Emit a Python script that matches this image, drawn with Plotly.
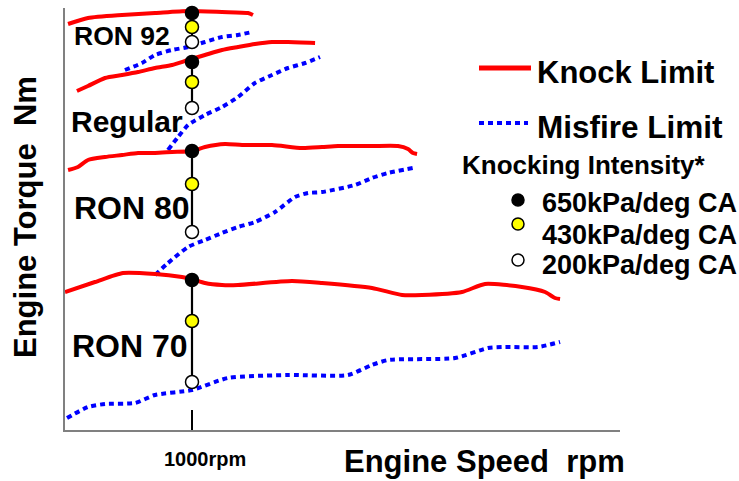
import plotly.graph_objects as go

# ---------------- data (engine speed in rpm, torque in arbitrary Nm units) ----------------
ron92_knock_rpm = [24, 181, 449, 709, 969, 1236, 1441, 1480]
ron92_knock_tq = [406, 412, 415, 417, 419, 418, 417, 415]
ron92_misfire_rpm = [472, 606, 709, 843, 969, 1102, 1236, 1362, 1472]
ron92_misfire_tq = [360, 367, 375, 380, 383, 388, 393, 395, 398]

regular_knock_rpm = [94, 181, 315, 449, 575, 709, 843, 969, 1102, 1236, 1362, 1496, 1630, 1756, 1969]
regular_knock_tq = [339, 344, 352, 355, 358, 362, 365, 370, 375, 380, 383, 386, 388, 388, 387]
regular_misfire_rpm = [811, 890, 969, 1102, 1236, 1362, 1496, 1630, 1756, 1890, 2008]
regular_misfire_tq = [280, 293, 305, 315, 323, 333, 347, 355, 362, 367, 373]

ron80_knock_rpm = [24, 102, 181, 315, 449, 575, 709, 843, 1000, 1102, 1260, 1394, 1630, 1866, 2024,
                   2150, 2417, 2622, 2701, 2740, 2772]
ron80_knock_tq = [260, 263, 270, 273, 275, 277, 277, 278, 279, 283, 286, 285, 285, 282, 283,
                  284, 284, 284, 281, 277, 276]
ron80_misfire_rpm = [709, 811, 969, 1102, 1236, 1362, 1496, 1654, 1811, 1913, 2024, 2283, 2417, 2543, 2740]
ron80_misfire_tq = [155, 167, 183, 190, 197, 203, 208, 218, 233, 237, 238, 245, 252, 257, 262]

ron70_knock_rpm = [0, 236, 457, 709, 921, 1000, 1102, 1236, 1362, 1787, 2024, 2417, 2654, 2811,
                   3126, 3307, 3598, 3780, 3858, 3898]
ron70_knock_tq = [138, 148, 157, 156, 153, 151, 147, 145, 145, 149, 147, 142, 135, 135,
                  138, 146, 143, 138, 132, 131]
ron70_misfire_rpm = [16, 181, 315, 551, 709, 1000, 1283, 1756, 2228, 2417, 2543, 3071, 3331, 3465, 3724, 3898]
ron70_misfire_tq = [12, 23, 26, 27, 35, 40, 52, 55, 55, 65, 70, 72, 82, 83, 83, 88]

fuel_labels = ["RON 92", "Regular", "RON 80", "RON 70"]
point_rpm = 1000
# knocking-intensity points at 1000 rpm: [650, 430, 200 kPa/deg CA]
intensity_tq = {
    "RON 92": [417, 403, 388],
    "Regular": [368, 348, 322],
    "RON 80": [279, 246, 198],
    "RON 70": [150, 109, 48],
}
intensity_labels = ["650kPa/deg CA", "430kPa/deg CA", "200kPa/deg CA"]
intensity_colors = ["#000000", "#FFFF00", "#FFFFFF"]

x_range = [0, 4370]
y_range = [0, 422]

# ---------------- layout helpers (pixel -> paper) ----------------
W, H = 739, 481
L, R, T, B = 65, 620, 8, 430


def pxx(x):
    return (x - L) / (R - L)


def pxy(y):
    return (B - y) / (B - T)


FONT = "Liberation Sans, Arial, sans-serif"
RED = "#FF0000"
BLUE = "#0000FF"
DOT = "5px,4px"

fig = go.Figure()

curves = [
    (ron92_knock_rpm, ron92_knock_tq, RED, "solid"),
    (ron92_misfire_rpm, ron92_misfire_tq, BLUE, DOT),
    (regular_knock_rpm, regular_knock_tq, RED, "solid"),
    (regular_misfire_rpm, regular_misfire_tq, BLUE, DOT),
    (ron80_knock_rpm, ron80_knock_tq, RED, "solid"),
    (ron80_misfire_rpm, ron80_misfire_tq, BLUE, DOT),
    (ron70_knock_rpm, ron70_knock_tq, RED, "solid"),
    (ron70_misfire_rpm, ron70_misfire_tq, BLUE, DOT),
]
for xs, ys, col, dash in curves:
    fig.add_trace(go.Scatter(
        x=xs, y=ys, mode="lines",
        line=dict(color=col, width=4, dash=dash, shape="spline", smoothing=0.6),
        showlegend=False, hoverinfo="skip",
    ))

for name in fuel_labels:
    ys = intensity_tq[name]
    fig.add_trace(go.Scatter(
        x=[point_rpm] * len(ys), y=ys, mode="lines+markers",
        line=dict(color="black", width=2.2),
        marker=dict(size=13, color=intensity_colors, line=dict(color="black", width=1.5)),
        cliponaxis=False, showlegend=False, hoverinfo="skip",
    ))

annotations = []


def txt(text, x, y, size, xanchor="left", angle=0):
    annotations.append(dict(
        text=text, x=pxx(x), y=pxy(y), xref="paper", yref="paper",
        xanchor=xanchor, yanchor="middle", showarrow=False, textangle=angle,
        font=dict(family=FONT, size=size, color="black", weight="bold"),
    ))


# fuel labels
txt(fuel_labels[0], 72, 36, 26.5)
txt(fuel_labels[1], 69, 121, 30)
txt(fuel_labels[2], 72, 208, 32)
txt(fuel_labels[3], 70, 346, 32)

# legend texts
txt("Knock Limit", 535, 73, 31)
txt("Misfire Limit", 535, 127, 31.5)
txt("Knocking Intensity*", 460, 165, 26)
for lab, yy in zip(intensity_labels, [203, 235, 265]):
    txt(lab, 540, yy, 27)

# axis titles
txt("Engine Speed\u00a0\u00a0rpm", 484, 462, 31, xanchor="center")
txt("1000rpm", 205, 459, 20, xanchor="center")
annotations.append(dict(
    text="Engine Torque\u00a0\u00a0Nm", x=pxx(26), y=pxy(217), xref="paper", yref="paper",
    xanchor="center", yanchor="middle", showarrow=False, textangle=-90,
    font=dict(family=FONT, size=31, color="black", weight="bold"),
))

shapes = [
    dict(type="line", xref="paper", yref="paper", x0=pxx(479), x1=pxx(531), y0=pxy(68), y1=pxy(68),
         line=dict(color=RED, width=5)),
    dict(type="line", xref="paper", yref="paper", x0=pxx(479), x1=pxx(528), y0=pxy(123), y1=pxy(123),
         line=dict(color=BLUE, width=4, dash=DOT)),
]
for col, yy in zip(intensity_colors, [200, 224, 260]):
    r = 6
    shapes.append(dict(type="circle", xref="paper", yref="paper",
                       x0=pxx(518 - r), x1=pxx(518 + r), y0=pxy(yy + r), y1=pxy(yy - r),
                       fillcolor=col, line=dict(color="black", width=1.5)))

fig.update_layout(
    width=W, height=H,
    margin=dict(l=L, r=W - R, t=T, b=H - B, pad=0),
    paper_bgcolor="white", plot_bgcolor="white",
    showlegend=False,
    annotations=annotations, shapes=shapes,
    xaxis=dict(range=x_range, showgrid=False, zeroline=False, showline=True,
               linecolor="#808080", linewidth=1.5, ticks="inside", tickvals=[point_rpm],
               ticklen=20, tickwidth=1.5, tickcolor="black", showticklabels=False, fixedrange=True),
    yaxis=dict(range=y_range, showgrid=False, zeroline=False, showline=True,
               linecolor="#808080", linewidth=1.5, ticks="", showticklabels=False, fixedrange=True),
)

fig.write_html("out.html")
